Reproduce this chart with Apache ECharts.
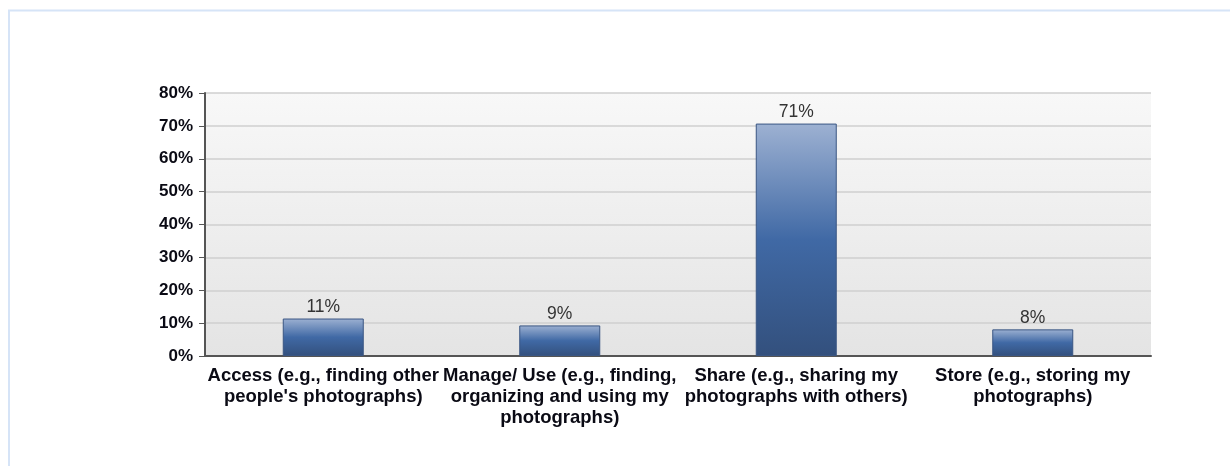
<!DOCTYPE html>
<html>
<head>
<meta charset="utf-8">
<script src="https://cdn.jsdelivr.net/npm/echarts@6/dist/echarts.min.js"></script>
<style>
html,body{margin:0;padding:0;background:#fff;}
#chart{width:1230px;height:466px;}
</style>
</head>
<body>
<div id="chart"></div>
<script>
const categories = [
  "Access (e.g., finding other\npeople's photographs)",
  "Manage/ Use (e.g., finding,\norganizing and using my\nphotographs)",
  "Share (e.g., sharing my\nphotographs with others)",
  "Store (e.g., storing my\nphotographs)"
];
const values = [11.4, 9.3, 70.7, 8.1];
const yTicks = [0, 10, 20, 30, 40, 50, 60, 70, 80];

const chart = echarts.init(document.getElementById('chart'), null, {renderer: 'canvas'});
chart.setOption({
  animation: false,
  backgroundColor: '#ffffff',
  graphic: [{
    type: 'rect',
    shape: {x: 9, y: 10.5, width: 1400, height: 600},
    style: {fill: 'none', stroke: '#d6e4f7', lineWidth: 2},
    z: -10
  }],
  grid: {
    left: 205, right: 79, top: 93, bottom: 110,
    show: true,
    borderWidth: 0,
    backgroundColor: new echarts.graphic.LinearGradient(0, 0, 0, 1, [
      {offset: 0, color: '#f8f8f8'},
      {offset: 1, color: '#e4e4e4'}
    ])
  },
  xAxis: {
    type: 'category',
    data: categories,
    axisLine: {lineStyle: {color: '#555555', width: 2}},
    axisTick: {alignWithLabel: true, length: 6, lineStyle: {color: '#555555'}},
    axisLabel: {
      interval: 0,
      color: '#0a0a14',
      fontFamily: 'Liberation Sans, Arial, sans-serif',
      fontWeight: 'bold',
      fontSize: 18.5,
      lineHeight: 21,
      margin: 9
    }
  },
  yAxis: {
    type: 'value',
    min: 0, max: 80, interval: 10,
    axisLine: {show: true, lineStyle: {color: '#555555', width: 2}},
    axisTick: {show: true, length: 6, lineStyle: {color: '#555555'}},
    splitLine: {lineStyle: {color: '#cfcfcf', width: 1.5}},
    axisLabel: {
      color: '#0a0a14',
      fontFamily: 'Liberation Sans, Arial, sans-serif',
      fontWeight: 'bold',
      fontSize: 17,
      margin: 12,
      formatter: function (v) { return yTicks.indexOf(v) >= 0 ? v + '%' : ''; }
    }
  },
  series: [{
    type: 'bar',
    data: values,
    barWidth: 81,
    itemStyle: {
      borderColor: '#3a5683',
      borderWidth: 1,
      color: new echarts.graphic.LinearGradient(0, 0, 0, 1, [
        {offset: 0, color: '#9db1d2'},
        {offset: 0.5, color: '#4069a5'},
        {offset: 1, color: '#33507d'}
      ])
    },
    label: {
      show: true,
      position: 'top',
      distance: 2,
      color: '#333333',
      fontFamily: 'Liberation Sans, Arial, sans-serif',
      fontSize: 17.5,
      formatter: function (p) { return Math.round(p.value) + '%'; }
    }
  }]
});
</script>
</body>
</html>
